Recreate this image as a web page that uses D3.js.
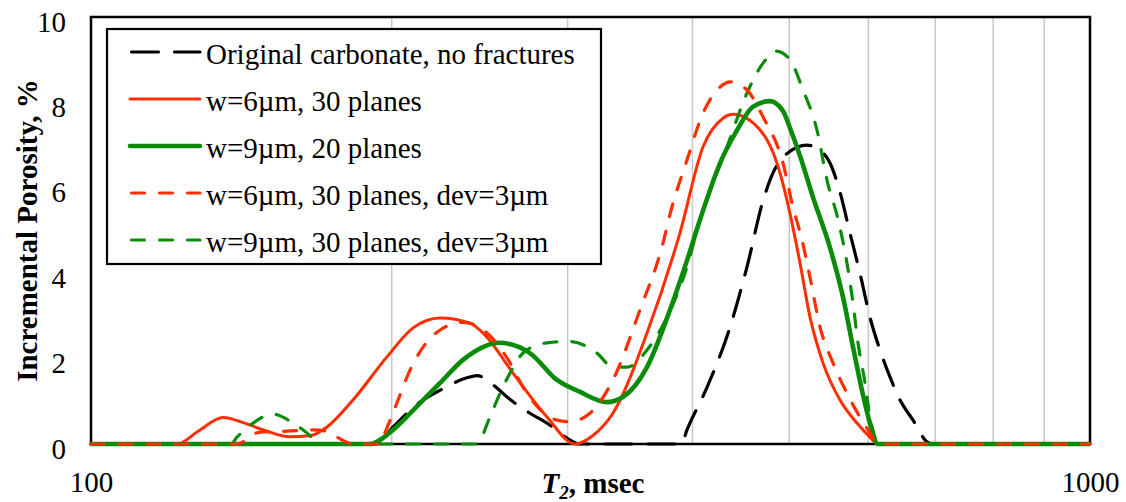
<!DOCTYPE html>
<html>
<head>
<meta charset="utf-8">
<script src="https://cdn.jsdelivr.net/npm/d3@7"></script>
<style>
  body { margin: 0; background: #fff; }
  svg { display: block; font-family: "Liberation Serif", "Times New Roman", serif; }
</style>
</head>
<body>
<svg id="chart" width="1126" height="502"></svg>
<script>
// T2 (msec) and incremental porosity (%)
const t2Orig = [100, 193, 200.6, 213.5, 223.6, 237.9, 243.4, 254.9, 260.9, 275, 286.1, 299.5, 308.6, 390, 395, 413.7, 436.2, 453.6, 470.7, 481.6, 497.4, 520.8, 536.7, 549.2, 562, 575.1, 588.5, 602.2, 616.3, 630.6, 645.4, 665, 686.8, 695, 1000];
const porOrig = [0, 0, 0.4, 0.98, 1.26, 1.55, 1.6, 1.31, 1.1, 0.72, 0.49, 0.14, 0, 0, 0.33, 1.33, 2.74, 4.15, 5.7, 6.35, 6.8, 7.0, 6.88, 6.58, 5.9, 4.94, 4.0, 2.97, 2.2, 1.57, 1.03, 0.56, 0.05, 0, 0];

const t2W6 = [100, 122, 128, 135.6, 142, 150, 158, 166, 172.3, 182.9, 197.8, 210.1, 223.6, 239.5, 248, 264.5, 286.1, 305.1, 318, 333, 360.2, 388.6, 409.9, 429.2, 439.2, 460, 489.4, 500.8, 512.5, 524.5, 540.4, 562, 584.4, 602.2, 613.5, 1000];
const porW6 = [0, 0, 0.3, 0.62, 0.5, 0.3, 0.17, 0.2, 0.4, 1.03, 2.04, 2.72, 2.95, 2.83, 2.55, 1.66, 0.63, 0, 0.2, 0.72, 2.6, 4.94, 6.96, 7.63, 7.72, 7.52, 6.35, 5.4, 4.24, 2.97, 1.9, 1.03, 0.49, 0.16, 0, 0];

const t2W9 = [100, 190, 200.6, 213.5, 223.6, 235.7, 246.8, 256, 275, 292.7, 308.6, 328.4, 340.8, 360.2, 379.8, 395, 407, 426.3, 443.3, 460, 478.3, 492.8, 500.8, 512.5, 528.1, 549.2, 565.9, 579.1, 591.2, 602.2, 613.5, 1000];
const porW9 = [0, 0, 0.33, 0.96, 1.43, 1.97, 2.27, 2.37, 2.13, 1.5, 1.22, 0.98, 1.1, 1.8, 3.14, 4.3, 5.25, 6.58, 7.35, 7.9, 8.03, 7.8, 7.4, 6.75, 5.78, 4.6, 3.44, 2.27, 1.26, 0.49, 0, 0];

const t2W6Dev = [100, 140, 147.6, 157.1, 166.8, 172, 176.3, 182.9, 194.6, 196, 202.4, 208.6, 215, 223.6, 235.7, 249.1, 262.7, 270.7, 292.7, 301.6, 315.8, 333, 354.4, 373.7, 380, 395, 409.9, 426.3, 436.2, 453.6, 470.7, 492.8, 504.3, 514.9, 524.5, 536.7, 553, 571.1, 588.5, 602.2, 613.5, 1000];
const porW6Dev = [0, 0, 0.28, 0.3, 0.33, 0.3, 0.16, 0, 0, 0.16, 0.96, 1.73, 2.27, 2.67, 2.85, 2.6, 1.9, 1.33, 0.56, 0.52, 0.72, 1.5, 3.14, 4.7, 5.4, 6.65, 7.75, 8.36, 8.48, 8.29, 7.66, 6.58, 5.55, 4.78, 3.9, 2.74, 1.9, 1.19, 0.63, 0.26, 0, 0];

const t2W9Dev = [100, 138, 140, 145.3, 152.1, 159.3, 164.5, 169.5, 243, 250.8, 256.7, 262.7, 270.7, 286.1, 301.6, 320.9, 333, 344, 360.2, 377.2, 395, 407, 433.2, 453.6, 470.7, 485, 500.8, 516.1, 533, 545.4, 559.6, 571.1, 579.1, 585.8, 595.4, 602.2, 612.1, 615, 1000];
const porW9Dev = [0, 0, 0.16, 0.49, 0.7, 0.49, 0.26, 0, 0, 0.63, 1.19, 1.66, 2.13, 2.37, 2.4, 2.13, 1.8, 1.8, 2.2, 2.97, 4.15, 5.25, 6.96, 8.22, 8.92, 9.2, 9.0, 8.29, 7.35, 6.18, 5.25, 4.24, 3.3, 2.37, 1.43, 0.63, 0.05, 0, 0];

const seriesNames = [
  'Original carbonate, no fractures',
  'w=6\u00b5m, 30 planes',
  'w=9\u00b5m, 20 planes',
  'w=6\u00b5m, 30 planes, dev=3\u00b5m',
  'w=9\u00b5m, 30 planes, dev=3\u00b5m'
];
const gridValues = [200, 300, 400, 500, 600, 700, 800, 900];
const yTicks = [0, 2, 4, 6, 8, 10];
const xTicks = [100, 1000];

const red = '#ff2e00';
const green = '#0a8c0a';

const series = [
  { name: seriesNames[0], t2: t2Orig, por: porOrig, color: '#000', width: 3.2, dash: '27,16', order: 0 },
  { name: seriesNames[1], t2: t2W6, por: porW6, color: red, width: 3, dash: null, order: 1 },
  { name: seriesNames[2], t2: t2W9, por: porW9, color: green, width: 4.6, dash: null, order: 2 },
  { name: seriesNames[3], t2: t2W6Dev, por: porW6Dev, color: red, width: 3.2, dash: '13,15', order: 4 },
  { name: seriesNames[4], t2: t2W9Dev, por: porW9Dev, color: green, width: 3.2, dash: '13,15', order: 3 }
];

const svg = d3.select('#chart');
const plotLeft = 91, plotRight = 1090, plotTop = 17, plotBottom = 444;

const x = d3.scaleLog().domain([100, 1000]).range([plotLeft, plotRight]);
const y = d3.scaleLinear().domain([0, 10]).range([plotBottom, plotTop]);

// vertical gridlines
svg.append('g')
  .selectAll('line')
  .data(gridValues)
  .enter()
  .append('line')
  .attr('x1', d => x(d))
  .attr('x2', d => x(d))
  .attr('y1', plotTop)
  .attr('y2', plotBottom)
  .attr('stroke', '#c8c8c8')
  .attr('stroke-width', 1.5);

// plot frame
svg.append('rect')
  .attr('x', plotLeft)
  .attr('y', plotTop)
  .attr('width', plotRight - plotLeft)
  .attr('height', plotBottom - plotTop)
  .attr('fill', 'none')
  .attr('stroke', '#000')
  .attr('stroke-width', 2.5);

// axes (labels only)
const yAxis = svg.append('g')
  .attr('transform', `translate(${plotLeft},0)`)
  .call(d3.axisLeft(y).tickValues(yTicks).tickSize(0).tickPadding(25));
yAxis.select('.domain').remove();
yAxis.selectAll('text')
  .attr('dy', null)
  .attr('transform', 'translate(0,14)')
  .attr('font-size', 29)
  .attr('font-family', '"Liberation Serif", "Times New Roman", serif')
  .attr('fill', '#000');

const xAxis = svg.append('g')
  .attr('transform', `translate(0,${plotBottom})`)
  .call(d3.axisBottom(x).tickValues(xTicks).tickFormat(d3.format('d')).tickSize(0));
xAxis.select('.domain').remove();
xAxis.selectAll('text')
  .attr('y', 48)
  .attr('dy', null)
  .attr('font-size', 29)
  .attr('font-family', '"Liberation Serif", "Times New Roman", serif')
  .attr('fill', '#000');

// curves
const line = d3.line()
  .x(d => x(d[0]))
  .y(d => y(d[1]))
  .curve(d3.curveMonotoneX);

svg.append('g')
  .selectAll('path')
  .data(series.slice().sort((a, b) => a.order - b.order))
  .enter()
  .append('path')
  .attr('d', s => line(s.t2.map((t, i) => [t, s.por[i]])))
  .attr('fill', 'none')
  .attr('stroke', s => s.color)
  .attr('stroke-width', s => s.width)
  .attr('stroke-dasharray', s => s.dash)
  .attr('stroke-linecap', s => s.dash ? 'round' : 'butt')
  .attr('stroke-linejoin', 'round');

// axis titles
svg.append('text')
  .attr('transform', `translate(37,${(plotTop + plotBottom) / 2}) rotate(-90)`)
  .attr('text-anchor', 'middle')
  .attr('font-size', 29)
  .attr('font-weight', 'bold')
  .text('Incremental Porosity, %');

const xTitle = svg.append('text')
  .attr('x', 593)
  .attr('y', 493)
  .attr('text-anchor', 'middle')
  .attr('font-size', 29)
  .attr('font-weight', 'bold');
xTitle.append('tspan').attr('font-style', 'italic').text('T');
xTitle.append('tspan').attr('font-style', 'italic').attr('font-size', 19).attr('dy', 6).text('2');
xTitle.append('tspan').attr('dy', -6).text(', msec');

// legend
const legend = svg.append('g');
legend.append('rect')
  .attr('x', 107)
  .attr('y', 29)
  .attr('width', 494)
  .attr('height', 235)
  .attr('fill', '#fff')
  .attr('stroke', '#000')
  .attr('stroke-width', 2.2);

const rows = legend.selectAll('g.row')
  .data(series)
  .enter()
  .append('g')
  .attr('class', 'row')
  .attr('transform', (d, i) => `translate(0,${52 + i * 47})`);

rows.append('line')
  .attr('x1', s => s.dash ? 131.5 : 130)
  .attr('x2', 200)
  .attr('y1', 0)
  .attr('y2', 0)
  .attr('stroke', s => s.color)
  .attr('stroke-width', s => s.width)
  .attr('stroke-dasharray', s => s.dash)
  .attr('stroke-linecap', 'round');

rows.append('text')
  .attr('x', 206)
  .attr('y', 12)
  .attr('font-size', 29)
  .attr('fill', '#000')
  .text(s => s.name);
</script>
</body>
</html>
